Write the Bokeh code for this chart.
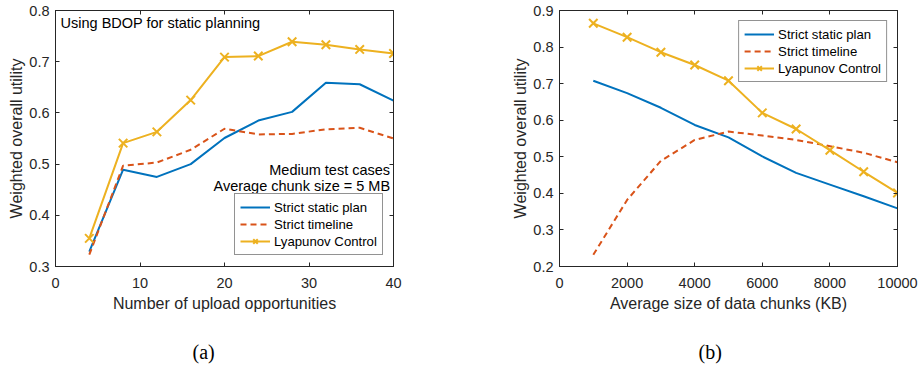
from bokeh.plotting import figure
from bokeh.layouts import row
from bokeh.models import LinearAxis, Legend, LegendItem, Label, Title, FixedTicker, Range1d
from bokeh.embed import file_html
from bokeh.resources import INLINE

# ---- data: panel (a)
opportunities = [4, 8, 12, 16, 20, 24, 28, 32, 36, 40]
a_static = [0.329, 0.489, 0.475, 0.500, 0.551, 0.585, 0.602, 0.659, 0.656, 0.624]
a_timeline = [0.323, 0.497, 0.503, 0.528, 0.569, 0.558, 0.559, 0.568, 0.571, 0.550]
a_lyapunov = [0.355, 0.541, 0.563, 0.625, 0.709, 0.711, 0.739, 0.733, 0.724, 0.716]
a_xticks = [0, 10, 20, 30, 40]
a_yticks = [0.3, 0.4, 0.5, 0.6, 0.7, 0.8]

# ---- data: panel (b)
chunk_kb = [1000, 2000, 3000, 4000, 5000, 6000, 7000, 8000, 9000, 10000]
b_static = [0.708, 0.674, 0.634, 0.587, 0.553, 0.501, 0.456, 0.424, 0.392, 0.359]
b_timeline = [0.232, 0.382, 0.489, 0.546, 0.569, 0.558, 0.546, 0.529, 0.511, 0.485]
b_lyapunov = [0.865, 0.827, 0.786, 0.751, 0.708, 0.620, 0.576, 0.518, 0.459, 0.401]
b_xticks = [0, 2000, 4000, 6000, 8000, 10000]
b_yticks = [0.2, 0.3, 0.4, 0.5, 0.6, 0.7, 0.8, 0.9]

series_names = ["Strict static plan", "Strict timeline", "Lyapunov Control"]

BLUE = "#0072BD"
ORANGE = "#D95319"
YELLOW = "#EDB120"
AX = "#262626"
FONT = "Liberation Sans"


def style_axis(ax, ticks, labels=True):
    ax.axis_line_color = AX
    ax.major_tick_line_color = AX
    ax.major_tick_in = 4
    ax.major_tick_out = 0
    ax.minor_tick_line_color = None
    ax.major_label_text_font = FONT
    ax.major_label_text_color = AX
    ax.axis_label_text_font = FONT
    ax.axis_label_text_color = AX
    ax.axis_label_text_font_style = "normal"
    if labels:
        ax.major_label_text_font_size = "14.5px"
        ax.axis_label_text_font_size = "16px"
    else:
        ax.major_label_overrides = {t: "" for t in ticks}
        ax.major_label_text_font_size = "1px"
        ax.major_label_standoff = 0


def make_panel(xs, ys_s, ys_t, ys_l, xr, yr, xticks, yticks, xlabel, width,
               bl, br, caption, cap_offset):
    p = figure(width=width, height=367, output_backend="svg", toolbar_location=None,
               x_range=Range1d(*xr), y_range=Range1d(*yr),
               min_border_left=bl, min_border_right=br,
               min_border_top=10, min_border_bottom=101)
    p.grid.visible = False
    p.outline_line_color = AX
    p.background_fill_color = "white"
    p.border_fill_color = "white"

    p.xaxis.ticker = FixedTicker(ticks=xticks)
    p.yaxis.ticker = FixedTicker(ticks=yticks)
    p.xaxis.axis_label = xlabel
    p.yaxis.axis_label = "Weighted overall utility"
    style_axis(p.xaxis[0], xticks)
    style_axis(p.yaxis[0], yticks)
    p.xaxis.major_label_standoff = 11
    p.xaxis.axis_label_standoff = 4
    p.yaxis.major_label_standoff = 6
    p.yaxis.axis_label_standoff = 1

    top = LinearAxis(ticker=FixedTicker(ticks=xticks))
    right = LinearAxis(ticker=FixedTicker(ticks=yticks))
    style_axis(top, xticks, labels=False)
    style_axis(right, yticks, labels=False)
    p.add_layout(top, "above")
    p.add_layout(right, "right")

    r1 = p.line(xs, ys_s, line_color=BLUE, line_width=2)
    r2 = p.line(xs, ys_t, line_color=ORANGE, line_width=2, line_dash="6 4")
    r3 = p.line(xs, ys_l, line_color=YELLOW, line_width=2)
    r3m = p.scatter(xs, ys_l, marker="x", size=12, line_color=YELLOW, line_width=2)

    legend = Legend(items=[LegendItem(label=series_names[0], renderers=[r1]),
                           LegendItem(label=series_names[1], renderers=[r2]),
                           LegendItem(label=series_names[2], renderers=[r3, r3m])])
    legend.label_text_font = FONT
    legend.label_text_font_size = "13.2px"
    legend.label_text_color = "black"
    legend.border_line_color = AX
    legend.border_line_width = 1
    legend.background_fill_color = "white"
    legend.background_fill_alpha = 1
    legend.glyph_width = 30
    legend.glyph_height = 16
    legend.label_height = 16
    legend.label_standoff = 4
    legend.padding = 5
    legend.spacing = 1
    legend.margin = 10
    p.add_layout(legend)

    cap = Title(text=caption, align="left", vertical_align="bottom",
                text_font="Liberation Serif", text_font_size="20px",
                text_font_style="normal", text_color="black",
                standoff=0, offset=cap_offset, padding=(0, 0, 24, 0))
    p.add_layout(cap, "below")
    return p, legend


pa, la = make_panel(opportunities, a_static, a_timeline, a_lyapunov, (0, 40), (0.3, 0.8),
                    a_xticks, a_yticks, "Number of upload opportunities", 470, 55, 77,
                    "(a)", 137)
la.location = (179, 11)
pa.add_layout(Label(x=0.6, y=0.7765, text="Using BDOP for static planning",
                    text_font=FONT, text_font_size="14.5px", text_color="black",
                    text_baseline="middle", text_align="left"))
pa.add_layout(Label(x=39.6, y=0.489, text="Medium test cases",
                    text_font=FONT, text_font_size="14.5px", text_color="black",
                    text_baseline="middle", text_align="right"))
pa.add_layout(Label(x=39.6, y=0.458, text="Average chunk size = 5 MB",
                    text_font=FONT, text_font_size="14.5px", text_color="black",
                    text_baseline="middle", text_align="right"))

pb, lb = make_panel(chunk_kb, b_static, b_timeline, b_lyapunov, (0, 10000), (0.2, 0.9),
                    b_xticks, b_yticks, "Average size of data chunks (KB)", 448, 89, 21,
                    "(b)", 139)
lb.location = "top_right"

layout = row(pa, pb, spacing=0)
open("out.html", "w").write(file_html(layout, INLINE))
